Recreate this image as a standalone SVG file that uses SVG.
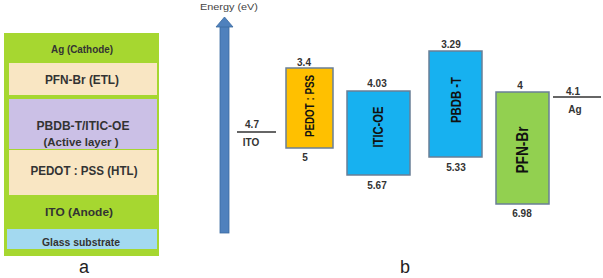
<svg xmlns="http://www.w3.org/2000/svg" width="603" height="278" viewBox="0 0 603 278">
<style>
.lt{font-family:"Liberation Sans",Arial,sans-serif;font-weight:bold;fill:#333;text-anchor:middle}
.num{font-family:"Liberation Sans",Arial,sans-serif;font-weight:bold;font-size:10px;fill:#333;text-anchor:middle}
.rot{font-family:"Liberation Sans",Arial,sans-serif;font-weight:bold;fill:#111;text-anchor:middle}
.box{stroke:#6a7f96;stroke-width:1.5}
.lvl{stroke:#333;stroke-width:1.5}
.cap{font-family:"Liberation Sans",Arial,sans-serif;font-size:18px;fill:#222;text-anchor:middle}
</style>
<rect width="603" height="278" fill="#fff"/>
<g id="stack">
  <rect x="4" y="33" width="155" height="223" fill="#a6d730"/>
  <g id="layer-ag"><text class="lt" x="82" y="53" font-size="10" textLength="62" lengthAdjust="spacingAndGlyphs">Ag (Cathode)</text></g>
  <g id="layer-pfn"><rect x="9" y="63" width="148" height="32" fill="#f9e6c3"/>
    <text class="lt" x="82" y="84" font-size="13" textLength="74" lengthAdjust="spacingAndGlyphs">PFN-Br (ETL)</text></g>
  <g id="layer-active"><rect x="9" y="99" width="148" height="50" fill="#cbc0e6"/>
    <text class="lt" x="83" y="130" font-size="13" textLength="93" lengthAdjust="spacingAndGlyphs">PBDB-T/ITIC-OE</text>
    <text class="lt" x="81" y="146" font-size="11" textLength="75" lengthAdjust="spacingAndGlyphs">(Active  layer )</text></g>
  <g id="layer-pedot"><rect x="9" y="150" width="148" height="45" fill="#f9e6c3"/>
    <text class="lt" x="84" y="175" font-size="13" textLength="107" lengthAdjust="spacingAndGlyphs">PEDOT : PSS  (HTL)</text></g>
  <g id="layer-ito"><text class="lt" x="79" y="216" font-size="11" textLength="68" lengthAdjust="spacingAndGlyphs">ITO  (Anode)</text></g>
  <g id="layer-glass"><rect x="7" y="229" width="150" height="20" fill="#a3d9f0"/>
    <text class="lt" x="81" y="246" font-size="10" textLength="78" lengthAdjust="spacingAndGlyphs">Glass substrate</text></g>
</g>
<text class="cap" x="84" y="273">a</text>
<text class="cap" x="405" y="273">b</text>
<g id="axis">
  <text x="200" y="10" font-family="Liberation Sans,Arial,sans-serif" font-size="9" fill="#444" textLength="58" lengthAdjust="spacingAndGlyphs">Energy (eV)</text>
  <rect x="220" y="25" width="9" height="208" fill="#4f81bd" stroke="#3b6aa0" stroke-width="0.8"/>
  <polygon points="216,27 224.5,17 233,27" fill="#4f81bd" stroke="#3b6aa0" stroke-width="0.8"/>
</g>
<g id="connectors"></g>
<g id="ito">
  <line class="lvl" x1="237" y1="132" x2="276" y2="132"/>
  <text class="num" x="252" y="128">4.7</text>
  <text class="num" x="251" y="146">ITO</text>
</g>
<g id="pedot">
  <rect class="box" x="286" y="68" width="47" height="80" fill="#ffc000" stroke="#7f7f7f"/>
  <text class="num" x="304" y="66">3.4</text>
  <text class="num" x="305" y="161">5</text>
  <text class="rot" font-size="12" transform="translate(314,106) rotate(-90)" textLength="62" lengthAdjust="spacingAndGlyphs">PEDOT : PSS</text>
</g>
<g id="itic">
  <rect class="box" x="347" y="91" width="63" height="84" fill="#17b1f0"/>
  <text class="num" x="377" y="87">4.03</text>
  <text class="num" x="377" y="189">5.67</text>
  <text class="rot" font-size="14" transform="translate(383,127) rotate(-90)" textLength="41" lengthAdjust="spacingAndGlyphs">ITIC-OE</text>
</g>
<g id="pbdb">
  <rect class="box" x="429" y="51" width="53" height="106" fill="#17b1f0"/>
  <text class="num" x="451" y="48">3.29</text>
  <text class="num" x="456" y="171">5.33</text>
  <text class="rot" font-size="15" transform="translate(461,100) rotate(-90)" textLength="46" lengthAdjust="spacingAndGlyphs">PBDB -T</text>
</g>
<g id="pfn">
  <rect class="box" x="496" y="92" width="53" height="112" fill="#92d050"/>
  <text class="num" x="520" y="89">4</text>
  <text class="num" x="522" y="217">6.98</text>
  <text class="rot" font-size="17" transform="translate(528,150) rotate(-90)" textLength="47" lengthAdjust="spacingAndGlyphs">PFN-Br</text>
</g>
<g id="ag">
  <line class="lvl" x1="553" y1="97" x2="601" y2="97"/>
  <text class="num" x="573" y="95">4.1</text>
  <text class="num" x="575" y="113" font-size="9">Ag</text>
</g>
</svg>
